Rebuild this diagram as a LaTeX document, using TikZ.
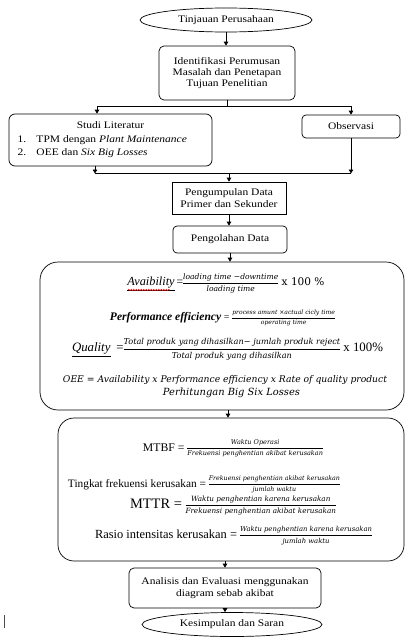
\documentclass[tikz,border=0pt]{standalone}
\usepackage{fontspec}
\usepackage{graphicx}
\setmainfont{Liberation Serif}
\newfontfamily\bx[FakeStretch=1.15]{Liberation Serif}
\newfontfamily\cam{DejaVu Serif}
\usetikzlibrary{shapes.geometric,arrows.meta,decorations.pathmorphing}
\newcommand{\myfr}[3]{$\vcenter{\hbox{#1\renewcommand{\arraystretch}{1.3}\setlength{\tabcolsep}{0pt}\begin{tabular}{c}#2\\\hline #3\end{tabular}}}$}
\tikzset{
  boxtxt/.style={font=\bx\fontsize{10}{12}\selectfont, align=center, inner sep=0pt},
  rbox/.style={boxtxt, draw, line width=0.7pt, rounded corners=5pt},
  sbox/.style={boxtxt, draw, line width=0.7pt},
  ell/.style={boxtxt, draw, line width=0.7pt, ellipse},
  formula/.style={inner sep=0pt},
  conn/.style={line width=0.8pt},
  arr/.style={conn, -{Triangle[length=4pt,width=4.5pt]}},
}
\begin{document}
\begin{tikzpicture}[x=1pt,y=-1pt]
\useasboundingbox (0,0) rectangle (406,637);
\fill[white] (0,0) rectangle (406,637);
% boxes
\node[ell, minimum width=172pt, minimum height=24pt] (top) at (226,20) {Tinjauan Perusahaan};
\node[rbox, minimum width=136pt, minimum height=54pt, font=\bx\fontsize{10}{11}\selectfont] (ident) at (227,73) {Identifikasi Perumusan\\Masalah dan Penetapan\\Tujuan Penelitian};
\node[rbox, rounded corners=6pt, minimum width=203pt, minimum height=52pt] (studi) at (110.5,140) {\begin{minipage}{186pt}\bx\fontsize{10}{13.5}\selectfont
{\centering Studi Literatur\par}
\raggedright\makebox[19pt][l]{1.}TPM dengan \textit{Plant Maintenance}\par
\makebox[19pt][l]{2.}OEE dan \textit{Six Big Losses}\par\end{minipage}};
\node[rbox, rounded corners=4pt, minimum width=98pt, minimum height=23pt] (obs) at (351,126.5) {Observasi};
\node[sbox, minimum width=114pt, minimum height=32pt] (peng) at (229,198) {Pengumpulan Data\\Primer dan Sekunder};
\node[rbox, rounded corners=4pt, minimum width=114pt, minimum height=27pt] (olah) at (230,239.5) {Pengolahan Data};
\node[rbox, rounded corners=18pt, minimum width=364pt, minimum height=148pt] (b1) at (222,336) {};
\node[rbox, rounded corners=16pt, minimum width=346pt, minimum height=143pt] (b2) at (231,489.5) {};
\node[rbox, minimum width=192pt, minimum height=40pt] (anal) at (225,588) {Analisis dan Evaluasi menggunakan\\diagram sebab akibat};
\node[ell, minimum width=180pt, minimum height=24pt] (kes) at (232,624.5) {Kesimpulan dan Saran};
% formulas box 1
\node[formula] (f1) at (226,283) {\resizebox{197pt}{!}{{\itshape\fontsize{10.5}{12}\selectfont\underline{Avaibility}}\,{\fontsize{10}{12}\selectfont =}\myfr{\cam\itshape\fontsize{6.5}{7.5}\selectfont}{loading time −downtime}{loading time}{\cam\fontsize{9}{10}\selectfont\ x 100 \%}}};
\draw[red, line width=0.5pt, decorate, decoration={snake, amplitude=0.7pt, segment length=2.5pt}] (128,290) -- (170,290);
\node[formula] (f2) at (222.5,318) {\resizebox{225pt}{!}{{\bfseries\itshape\fontsize{10.5}{12}\selectfont Performance efficiency} {\fontsize{9}{10}\selectfont =} \myfr{\cam\itshape\fontsize{5.5}{6.5}\selectfont}{process amunt ×actual cicly time}{operating time}}};
\node[formula] (f3) at (227.5,349) {\resizebox{311pt}{!}{{\itshape\fontsize{11}{12}\selectfont\underline{Quality}}\ \ {\fontsize{11}{12}\selectfont =}\myfr{\cam\itshape\fontsize{7}{8.5}\selectfont}{Total produk yang dihasilkan− jumlah produk reject}{Total produk yang dihasilkan}{\fontsize{11}{12}\selectfont\ x 100\%}}};
\node[formula] (f4) at (225,380) {\resizebox{324pt}{!}{\cam\itshape\fontsize{8.5}{10}\selectfont OEE = Availability x Performance efficiency x Rate of quality product}};
\node[formula] (f5) at (231.5,393) {\resizebox{137pt}{!}{\cam\itshape\fontsize{8.5}{10}\selectfont Perhitungan Big Six Losses}};
% formulas box 2
\node[formula] (m1) at (233,448) {\resizebox{180pt}{!}{{\fontsize{9}{10}\selectfont MTBF = }\myfr{\cam\itshape\fontsize{5}{6.5}\selectfont}{Waktu Operasi}{Frekuensi penghentian akibat kerusakan}}};
\node[formula] (m2) at (204,484) {\resizebox{272pt}{!}{{\fontsize{9}{10}\selectfont Tingkat frekuensi kerusakan = }\myfr{\cam\itshape\fontsize{5}{6.5}\selectfont}{Frekuensi penghentian akibat kerusakan}{jumlah waktu}}};
\node[formula] (m3) at (233,505) {\resizebox{206pt}{!}{{\fontsize{12}{13}\selectfont MTTR = }\myfr{\cam\itshape\fontsize{6}{7.5}\selectfont}{Waktu penghentian karena kerusakan}{Frekuensi penghentian akibat kerusakan}}};
\node[formula] (m4) at (233.5,535) {\resizebox{277pt}{!}{{\fontsize{10}{11}\selectfont Rasio intensitas kerusakan = }\myfr{\cam\itshape\fontsize{5.5}{7}\selectfont}{Waktu penghentian karena kerusakan}{jumlah waktu}}};
% connectors
\coordinate (sl) at (97,106);
\coordinate (sr) at (351,106);
\coordinate (ml) at (95,173.5);
\coordinate (mr) at (351,173.5);
\draw[arr] (top.south) -- (top.south |- ident.north);
\draw[conn] (ident.south) -- (ident.south |- sl);
\draw[conn] (sl) -- (sr);
\draw[arr] (sl) -- (sl |- studi.north);
\draw[arr] (sr) -- (sr |- obs.north);
\draw[arr] (ml |- studi.south) -- (ml);
\draw[arr] (obs.south) -- (obs.south |- mr);
\draw[conn] (ml) -- (mr);
\draw[arr] (peng.north |- ml) -- (peng.north);
\draw[arr] (peng.south) -- (peng.south |- olah.north);
\draw[arr] (olah.south) -- (olah.south |- b1.north);
\draw[arr] (b1.south -| 228,0) -- (b2.north -| 228,0);
\draw[arr] (b2.south -| anal.north) -- (anal.north);
\draw[arr] (anal.south) -- (anal.south |- kes.north);
% stray cursor mark
\draw[line width=0.8pt, black!70] (4,615) -- (4,628);
\end{tikzpicture}
\end{document}
